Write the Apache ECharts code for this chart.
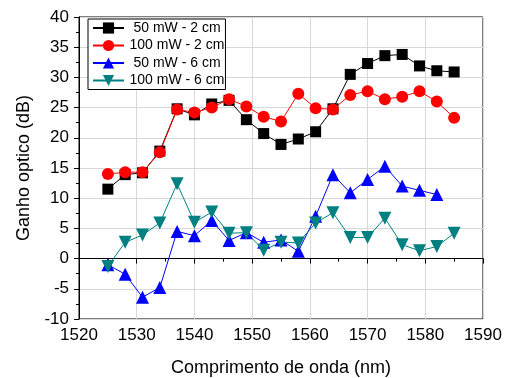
<!DOCTYPE html>
<html>
<head>
<meta charset="utf-8">
<script src="https://cdn.jsdelivr.net/npm/echarts@6/dist/echarts.min.js"></script>
<style>
  html, body { margin: 0; padding: 0; background: #fff; }
  #chart { width: 513px; height: 378px; }
</style>
</head>
<body>
<div id="chart"></div>
<script>
// comprimento de onda (nm)
const wavelength = [1525, 1528, 1531, 1534, 1537, 1540, 1543, 1546, 1549, 1552, 1555,
                    1558, 1561, 1564, 1567, 1570, 1573, 1576, 1579, 1582, 1585];
const seriesNames = ['50 mW - 2 cm', '100 mW - 2 cm', '50 mW - 6 cm', '100 mW - 6 cm'];
const gain50mW2cm = [11.5, 13.9, 14.2, 17.8, 24.8, 23.8, 25.6, 26.2, 23.0, 20.7, 18.9,
                     19.8, 21.0, 24.8, 30.5, 32.3, 33.6, 33.8, 31.9, 31.1, 30.9];
const gain100mW2cm = [14.0, 14.3, 14.3, 17.6, 24.7, 24.2, 25.0, 26.4, 25.2, 23.5, 22.7,
                      27.3, 24.9, 24.7, 27.1, 27.7, 26.4, 26.8, 27.7, 26.0, 23.3];
const gain50mW6cm = [-1.0, -2.6, -6.4, -4.8, 4.5, 3.8, 6.3, 3.0, 4.3, 2.7, 3.1,
                     1.2, 7.0, 13.9, 10.9, 13.1, 15.3, 12.0, 11.3, 10.6];
const gain100mW6cm = [-1.3, 2.7, 3.9, 5.9, 12.4, 6.0, 7.7, 4.2, 4.3, 1.4, 2.7,
                      2.6, 5.9, 7.6, 3.5, 3.5, 6.7, 2.3, 1.3, 2.0, 4.2];

const pairs = (ys) => ys.map((y, i) => [wavelength[i], y]);

const chart = echarts.init(document.getElementById('chart'));
const font = 'Liberation Sans, Arial, sans-serif';
const downTri = 'path://M0,0 L10,0 L5,9 Z';

const mk = (name, ys, color, symbol, size) => ({
  name: name,
  type: 'line',
  data: pairs(ys),
  symbol: symbol,
  symbolSize: size,
  showAllSymbol: true,
  lineStyle: { color: color, width: 1 },
  itemStyle: { color: color },
  emphasis: { disabled: true },
  animation: false
});

const option = {
  animation: false,
  grid: {
    left: 79, right: 30, top: 17, bottom: 59,
    outerBoundsMode: 'none',
    show: true, borderColor: '#000', borderWidth: 1
  },
  legend: {
    orient: 'vertical',
    left: 88, top: 19,
    padding: [2, 1, 2, 4],
    itemWidth: 31, itemHeight: 14, itemGap: 3.5,
    borderColor: '#000', borderWidth: 1,
    backgroundColor: '#fff',
    data: seriesNames,
    formatter: '{t|{name}}',
    textStyle: {
      fontFamily: font, fontSize: 14, color: '#000',
      rich: { t: { width: 96, align: 'center', fontFamily: font, fontSize: 14 } }
    }
  },
  xAxis: {
    type: 'value', min: 1520, max: 1590, interval: 10,
    name: 'Comprimento de onda (nm)', nameLocation: 'middle', nameGap: 40,
    nameTextStyle: { fontFamily: font, fontSize: 18, color: '#000' },
    axisLine: { lineStyle: { color: '#000', width: 1 } },
    axisTick: { show: true, inside: false, length: 5, lineStyle: { color: '#000' } },
    minorTick: { show: true, splitNumber: 2, length: 3, lineStyle: { color: '#000' } },
    axisLabel: { fontFamily: font, fontSize: 17, color: '#000', margin: 8,
                 formatter: (v) => String(v) },
    splitLine: { show: true, lineStyle: { color: '#d8d8d8', width: 1 } }
  },
  yAxis: {
    type: 'value', min: -10, max: 40, interval: 5,
    name: 'Ganho optico (dB)', nameLocation: 'middle', nameGap: 44,
    nameTextStyle: { fontFamily: font, fontSize: 18, color: '#000' },
    axisLine: { show: true, lineStyle: { color: '#000', width: 1 } },
    axisTick: { show: true, inside: false, length: 5, lineStyle: { color: '#000' } },
    minorTick: { show: true, splitNumber: 2, length: 3, lineStyle: { color: '#000' } },
    axisLabel: { fontFamily: font, fontSize: 17, color: '#000', margin: 10 },
    splitLine: { show: true, lineStyle: { color: '#d8d8d8', width: 1 } }
  },
  series: [
    mk(seriesNames[0], gain50mW2cm, '#000000', 'rect', 11),
    mk(seriesNames[1], gain100mW2cm, '#ff0000', 'circle', 12),
    mk(seriesNames[2], gain50mW6cm, '#0000ff', 'triangle', 13),
    mk(seriesNames[3], gain100mW6cm, '#008080', downTri, 13)
  ]
};
chart.setOption(option);
</script>
</body>
</html>
